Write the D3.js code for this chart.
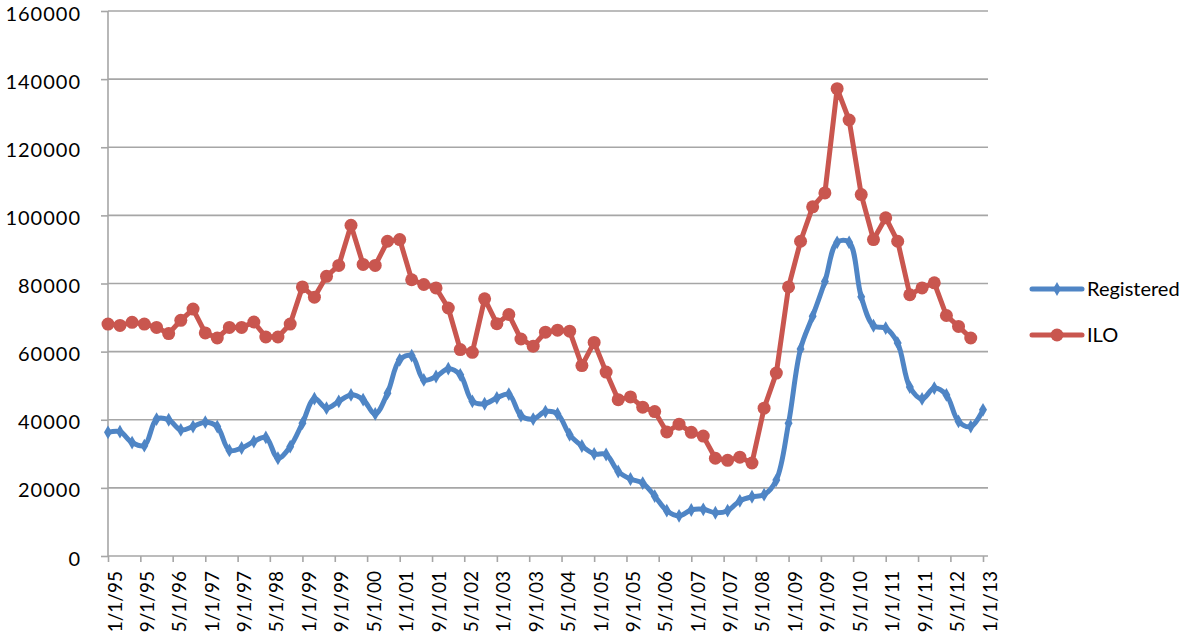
<!DOCTYPE html>
<html>
<head>
<meta charset="utf-8">
<script src="https://cdn.jsdelivr.net/npm/d3@7"></script>
<style>
  html, body { margin: 0; padding: 0; background: #fff; }
  svg { display: block; font-family: Lato, "Open Sans", sans-serif; }
</style>
</head>
<body>
<svg id="chart" width="1200" height="635"></svg>
<script>
const quarters = ["1/1/95","4/1/95","7/1/95","10/1/95","1/1/96","4/1/96","7/1/96","10/1/96",
  "1/1/97","4/1/97","7/1/97","10/1/97","1/1/98","4/1/98","7/1/98","10/1/98",
  "1/1/99","4/1/99","7/1/99","10/1/99","1/1/00","4/1/00","7/1/00","10/1/00",
  "1/1/01","4/1/01","7/1/01","10/1/01","1/1/02","4/1/02","7/1/02","10/1/02",
  "1/1/03","4/1/03","7/1/03","10/1/03","1/1/04","4/1/04","7/1/04","10/1/04",
  "1/1/05","4/1/05","7/1/05","10/1/05","1/1/06","4/1/06","7/1/06","10/1/06",
  "1/1/07","4/1/07","7/1/07","10/1/07","1/1/08","4/1/08","7/1/08","10/1/08",
  "1/1/09","4/1/09","7/1/09","10/1/09","1/1/10","4/1/10","7/1/10","10/1/10",
  "1/1/11","4/1/11","7/1/11","10/1/11","1/1/12","4/1/12","7/1/12","10/1/12","1/1/13"];

const registered = [36300,36500,33300,32400,40200,40000,37000,38000,
  39300,38000,31000,31700,33600,34800,28700,32100,
  39000,46200,43400,45400,47300,45900,41700,47800,
  57600,58800,51700,52700,55000,53200,45400,44700,
  46400,47500,41200,40200,42400,41700,35600,32300,
  30000,29800,24800,22600,21400,17600,13300,11800,
  13500,13700,12700,13300,16200,17400,18000,22300,
  39000,60800,70400,80600,92100,92100,76100,67600,
  66900,62500,49600,46100,49300,47300,39500,38000,42900];

const ilo = [68100,67700,68600,68100,67100,65300,69200,72500,
  65500,64000,67100,67100,68700,64300,64300,68100,
  79000,76000,82100,85300,97100,85600,85300,92400,
  92900,81100,79700,78700,72800,60600,59800,75500,
  68200,70900,63700,61600,65700,66300,66000,55900,
  62700,54000,45900,46700,43700,42400,36400,38700,
  36300,35200,28700,28100,29000,27300,43400,53700,
  79000,92400,102500,106600,137200,128000,106100,92900,
  99300,92400,76700,78700,80200,70600,67400,64000];

const tickLabels = ["1/1/95","9/1/95","5/1/96","1/1/97","9/1/97","5/1/98","1/1/99","9/1/99",
  "5/1/00","1/1/01","9/1/01","5/1/02","1/1/03","9/1/03","5/1/04","1/1/05","9/1/05",
  "5/1/06","1/1/07","9/1/07","5/1/08","1/1/09","9/1/09","5/1/10","1/1/11","9/1/11",
  "5/1/12","1/1/13"];

const yTicks = [0,20000,40000,60000,80000,100000,120000,140000,160000];

const seriesNames = ["Registered", "ILO"];
const colors = {Registered: "#4F85C5", ILO: "#C9564F"};

const parse = d3.timeParse("%m/%d/%y");
const svg = d3.select("#chart");

const x = d3.scaleTime()
  .domain([parse("1/1/95"), parse("1/1/13")])
  .range([108, 983]);
const y = d3.scaleLinear().domain([0, 160000]).range([556, 11]);

const gridColor = "#A6A6A6";

// gridlines
svg.append("g").selectAll("line").data(yTicks.filter(d => d > 0)).join("line")
  .attr("x1", 108).attr("x2", 988)
  .attr("y1", d => y(d)).attr("y2", d => y(d))
  .attr("stroke", gridColor).attr("stroke-width", 1.6);

// y axis
const yAxis = d3.axisLeft(y).tickValues(yTicks).tickSize(7).tickPadding(20).tickFormat(d3.format("d"));
const gy = svg.append("g").attr("transform", "translate(108,0)").call(yAxis);
gy.select(".domain").attr("stroke", gridColor).attr("stroke-width", 1.6).attr("d", "M0,11V556");
gy.selectAll(".tick line").attr("stroke", gridColor).attr("stroke-width", 1.6);
gy.selectAll(".tick text").attr("font-size", 20).attr("fill", "#000")
  .attr("font-family", "Lato, sans-serif").attr("letter-spacing", "1px").attr("dy", "0.45em");

// x axis
const xAxis = d3.axisBottom(x).tickValues(tickLabels.map(parse)).tickSize(6)
  .tickFormat((d, i) => tickLabels[i]);
const gx = svg.append("g").attr("transform", "translate(0,556)").call(xAxis);
gx.select(".domain").attr("stroke", gridColor).attr("stroke-width", 1.6).attr("d", "M108,0H988");
gx.selectAll(".tick line").attr("stroke", gridColor).attr("stroke-width", 1.6);
gx.selectAll(".tick text")
  .attr("font-size", 19).attr("fill", "#000").attr("font-family", "Lato, sans-serif")
  .attr("text-anchor", "end").attr("y", 0).attr("dy", 0)
  .attr("transform", "translate(13,15) rotate(-90)");

const dates = quarters.map(parse);

// Registered (smoothed)
const regData = registered.map((v, i) => ({d: dates[i], v}));
svg.append("path").datum(regData)
  .attr("fill", "none").attr("stroke", colors.Registered).attr("stroke-width", 5)
  .attr("stroke-linejoin", "round").attr("stroke-linecap", "round")
  .attr("d", d3.line().x(p => x(p.d)).y(p => y(p.v)).curve(d3.curveCatmullRom.alpha(0.5)));
svg.append("g").selectAll("path").data(regData).join("path")
  .attr("transform", p => `translate(${x(p.d)},${y(p.v)})`)
  .attr("d", d3.symbol(d3.symbolDiamond, 55))
  .attr("fill", colors.Registered);

// ILO (straight)
const iloData = ilo.map((v, i) => ({d: dates[i], v}));
svg.append("path").datum(iloData)
  .attr("fill", "none").attr("stroke", colors.ILO).attr("stroke-width", 5)
  .attr("stroke-linejoin", "round").attr("stroke-linecap", "round")
  .attr("d", d3.line().x(p => x(p.d)).y(p => y(p.v)));
svg.append("g").selectAll("circle").data(iloData).join("circle")
  .attr("cx", p => x(p.d)).attr("cy", p => y(p.v)).attr("r", 6.5)
  .attr("fill", colors.ILO);

// legend
const legend = svg.append("g");
const ly = [289, 335];
seriesNames.forEach((name, i) => {
  const g = legend.append("g").attr("transform", `translate(0,${ly[i]})`);
  g.append("line").attr("x1", 1032).attr("x2", 1082).attr("y1", 0).attr("y2", 0)
    .attr("stroke", colors[name]).attr("stroke-width", 5).attr("stroke-linecap", "round");
  if (name === "ILO") {
    g.append("circle").attr("cx", 1057).attr("cy", 0).attr("r", 6.5).attr("fill", colors[name]);
  } else {
    g.append("path").attr("transform", "translate(1057,0)")
      .attr("d", d3.symbol(d3.symbolDiamond, 55)).attr("fill", colors[name]);
  }
  g.append("text").attr("x", 1087).attr("y", 0).attr("dy", "0.36em")
    .attr("font-size", 20).attr("font-family", "Lato, sans-serif").attr("fill", "#000")
    .text(name);
});
</script>
</body>
</html>
